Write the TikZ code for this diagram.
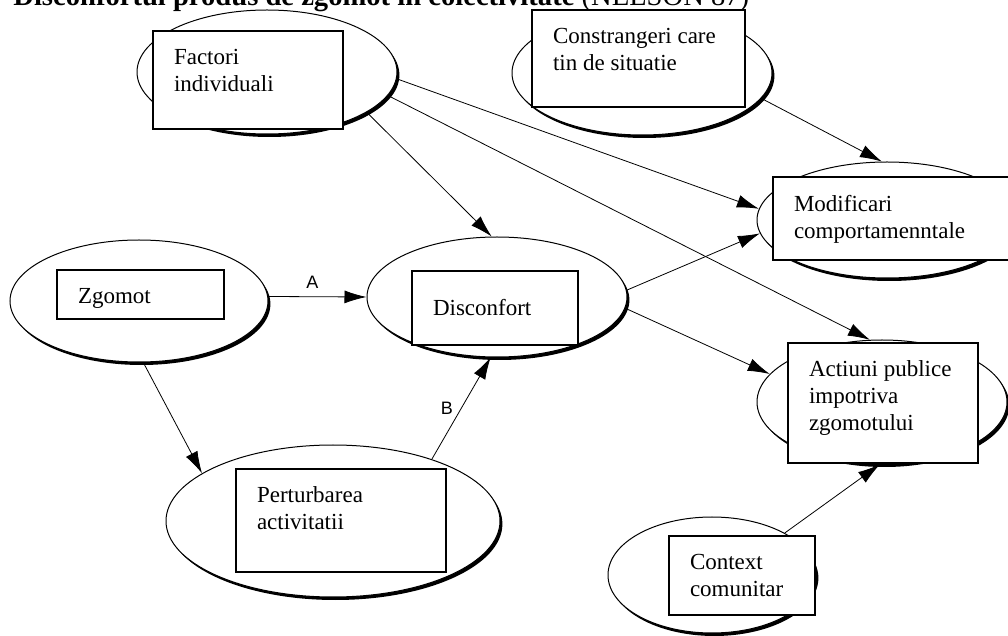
\documentclass[tikz,border=0pt]{standalone}
\usepackage{fontspec}
\setmainfont{Liberation Serif}
\newfontfamily\labelfont{Liberation Sans}
\usetikzlibrary{shapes.geometric,shadows,arrows.meta}

\newcommand{\boxtxt}[4][t]{\parbox[c][#3][#1]{#2}{\raggedright #4}}

\begin{document}
\begin{tikzpicture}[x=0.5pt,y=-0.5pt,
    oval/.style={ellipse,draw,line width=0.5pt,fill=white,inner sep=0pt,
      drop shadow={shadow xshift=1.2pt,shadow yshift=-1.5pt,fill=black,opacity=1}},
    txtbox/.style={draw,fill=white,line width=0.8pt,inner xsep=10.5pt,inner ysep=9pt,
      font=\fontsize{11.5}{13.5}\selectfont},
    arr/.style={-{Latex[length=11pt,width=6.5pt]},line width=0.4pt},
    lbl/.style={font=\labelfont\fontsize{9}{10}\selectfont,inner sep=1pt}]
  \useasboundingbox (0,0) rectangle (1008,636);
  % ovals
  \node[oval,minimum width=130pt,minimum height=62pt] (factori) at (267,72) {};
  \node[oval,minimum width=130pt,minimum height=62pt] (constr) at (642,73) {};
  \node[oval,minimum width=129pt,minimum height=61pt] (zgomot) at (139,301) {};
  \node[oval,minimum width=130pt,minimum height=60pt] (disconf) at (497,297) {};
  \node[oval,minimum width=130pt,minimum height=58pt] (modif) at (887,220) {};
  \node[oval,minimum width=125pt,minimum height=62pt] (actiuni) at (882,402) {};
  \node[oval,minimum width=167pt,minimum height=76pt] (perturb) at (333,521) {};
  \node[oval,minimum width=104pt,minimum height=58pt] (context) at (712,575) {};
  % boxes
  \node[txtbox] (factoribox) at (248,80) {\boxtxt{74pt}{31pt}{Factori\\individuali}};
  \node[txtbox] (constrbox) at (638.5,58.5) {\boxtxt{85.5pt}{30.5pt}{Constrangeri care\\tin de situatie}};
  \node[txtbox] (zgomotbox) at (140.5,294.5) {\boxtxt{62.5pt}{6.5pt}{Zgomot}};
  \node[txtbox] (disconfbox) at (495,308) {\boxtxt[c]{62pt}{19pt}{Disconfort}};
  \node[txtbox] (modifbox) at (896.5,218.5) {\boxtxt{102.5pt}{23.5pt}{Modificari\\comportamenntale}};
  \node[txtbox] (actiunibox) at (883,403) {\boxtxt{74pt}{42pt}{Actiuni publice\\impotriva\\zgomotului}};
  \node[txtbox] (perturbbox) at (341,520.5) {\boxtxt{84pt}{33.5pt}{Perturbarea\\activitatii}};
  \node[txtbox] (contextbox) at (742,575.5) {\boxtxt{52pt}{21.5pt}{Context\\comunitar}};
  % arrows
  \draw[arr] (factori.-22) -- (disconf.95);
  \draw[arr] (factori.-3) -- (modif.175);
  \draw[arr] (factori.-11) -- (actiuni.101);
  \draw[arr] (constr.-12) -- (modif.95);
  \draw[arr] (zgomot.2) -- node[lbl,pos=0.45,above=3pt] (a) {A} (disconf.180);
  \draw[arr] (zgomot.-86) -- (perturb.160);
  \draw[arr] (perturb.32) -- node[lbl,pos=0.5,left=3pt] (b) {B} (disconf.-96);
  \draw[arr] (disconf.3) -- (modif.-174);
  \draw[arr] (disconf.-5) -- (actiuni.166);
  \draw[arr] (context.30) -- (actiuni.-92);
  % title, cut by the top edge
  \node[anchor=base west,inner sep=0pt,font=\fontsize{14.3}{16}\selectfont] (title) at (13,6)
    {\textbf{Disconfortul produs de zgomot in colectivitate} (NELSON 87)};
\end{tikzpicture}
\end{document}
